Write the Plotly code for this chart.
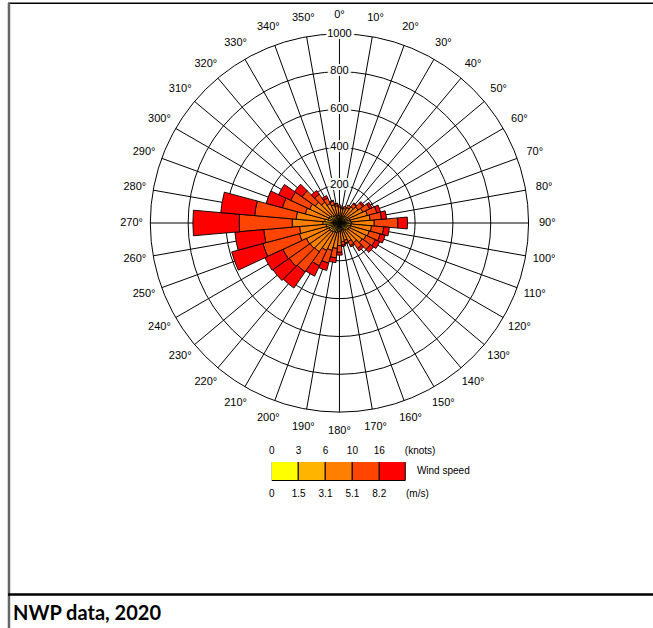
import plotly.graph_objects as go

# ---------------- data ----------------
directions = list(range(0, 360, 10))
dir_labels = [f"{d}°" for d in directions]

speed_bins_ms = ["0", "1.5", "3.1", "5.1", "8.2"]
speed_bins_kn = ["0", "3", "6", "10", "16"]
bin_names = ["0-1.5 m/s", "1.5-3.1 m/s", "3.1-5.1 m/s", "5.1-8.2 m/s", ">8.2 m/s"]
bin_colors = ["#FFFF00", "#FFB400", "#FF8000", "#FF4500", "#FF0000"]

bin1 = [15, 14, 14, 15, 16, 17, 18, 19, 20, 20, 20, 20, 19, 18, 17, 16, 15, 15,
        16, 17, 17, 18, 19, 19, 19, 21, 21, 25, 22, 20, 19, 18, 17, 16, 15, 15]
bin2 = [25, 22, 22, 25, 28, 31, 35, 38, 40, 45, 42, 40, 38, 36, 31, 27, 25, 25,
        29, 32, 35, 36, 40, 42, 42, 50, 49, 63, 56, 43, 41, 36, 31, 28, 27, 25]
bin3 = [45, 41, 44, 50, 61, 72, 83, 96, 103, 119, 108, 103, 98, 93, 80, 65, 55, 60,
        75, 86, 98, 106, 127, 129, 132, 148, 142, 162, 152, 124, 114, 102, 86, 70, 58, 51]
bin4 = [10, 8, 10, 15, 20, 30, 40, 52, 60, 125, 65, 60, 55, 52, 37, 24, 15, 18,
        35, 50, 70, 90, 130, 135, 137, 200, 190, 280, 220, 125, 110, 85, 52, 32, 20, 12]
bin5 = [0, 0, 0, 0, 5, 10, 14, 20, 27, 51, 30, 27, 25, 21, 15, 8, 5, 7,
        15, 25, 40, 60, 104, 105, 105, 171, 153, 245, 180, 88, 71, 49, 24, 14, 5, 2]
bins = [bin1, bin2, bin3, bin4, bin5]

radial_ticks = [200, 400, 600, 800, 1000]
radial_labels = [str(v) for v in radial_ticks]

title_text = "NWP data, 2020"

# ---------------- figure ----------------
W, H = 653, 628
fig = go.Figure()

for vals, name, col in zip(bins, bin_names, bin_colors):
    fig.add_trace(go.Barpolar(
        r=vals, theta=directions, name=name, width=10,
        marker=dict(color=col, line=dict(color="black", width=0.9)),
        showlegend=False, subplot="polar",
    ))

# radial tick labels centred on the north spoke, masking the lines
fig.add_trace(go.Scatterpolar(
    r=radial_ticks, theta=[0] * len(radial_ticks), mode="text",
    text=radial_labels, textposition="middle center",
    textfont=dict(family="Liberation Sans, Arial", size=11, color="black",
                  shadow="2px 0 0 #fff, -2px 0 0 #fff, 0 2px 0 #fff, 0 -2px 0 #fff, "
                         "3px 0 0 #fff, -3px 0 0 #fff, 2px 2px 0 #fff, -2px -2px 0 #fff, "
                         "2px -2px 0 #fff, -2px 2px 0 #fff"),
    showlegend=False, hoverinfo="skip", subplot="polar",
))

# direction labels: a second, larger, invisible polar frame whose rim carries the labels
fig.add_trace(go.Scatterpolar(
    r=[1000] * len(directions), theta=directions, mode="text",
    text=dir_labels, textposition="middle center", cliponaxis=False,
    textfont=dict(family="Liberation Sans, Arial", size=11, color="black"),
    showlegend=False, hoverinfo="skip", subplot="polar2",
))

# colour key (legend) as a small cartesian strip
fig.add_trace(go.Bar(
    x=[i + 0.5 for i in range(len(bin_colors))], y=[1] * len(bin_colors), width=1,
    marker=dict(color=bin_colors, line=dict(color="black", width=1)),
    xaxis="x", yaxis="y", showlegend=False, cliponaxis=False, hoverinfo="skip",
))
fig.add_trace(go.Scatter(
    x=[5.4], y=[0.5], mode="text", text=["Wind speed"], textposition="middle right",
    textfont=dict(family="Liberation Sans, Arial", size=10, color="black"),
    xaxis="x", yaxis="y", showlegend=False, hoverinfo="skip", cliponaxis=False,
))

cx, cy, R = 338, 223, 190
RL = 209  # pixel radius of the label ring

hidden_polar_axes = dict(
    angularaxis=dict(rotation=90, direction="clockwise", showticklabels=False, ticks="",
                     showline=False, showgrid=False),
    radialaxis=dict(range=[0, 1001], showticklabels=False, ticks="", showline=False,
                    showgrid=False),
)

fig.update_layout(
    width=W, height=H,
    margin=dict(l=0, r=0, t=0, b=0),
    paper_bgcolor="white", plot_bgcolor="white",
    font=dict(family="Liberation Sans, Arial", size=11, color="black"),
    polar=dict(
        domain=dict(x=[(cx - R) / W, (cx + R) / W], y=[1 - (cy + R) / H, 1 - (cy - R) / H]),
        bgcolor="white", bargap=0, barmode="stack",
        angularaxis=dict(
            rotation=90, direction="clockwise",
            tickmode="array", tickvals=directions, ticktext=dir_labels,
            showticklabels=False, ticks="",
            showline=True, linecolor="black", linewidth=1,
            showgrid=True, gridcolor="black", gridwidth=1,
            layer="below traces",
        ),
        radialaxis=dict(
            range=[0, 1000], tickmode="array", tickvals=radial_ticks,
            showticklabels=False, ticks="", showline=False,
            showgrid=True, gridcolor="black", gridwidth=1,
            layer="below traces",
        ),
    ),
    polar2=dict(
        domain=dict(x=[(cx - RL) / W, (cx + RL) / W], y=[1 - (cy + RL) / H, 1 - (cy - RL) / H]),
        bgcolor="rgba(0,0,0,0)",
        **hidden_polar_axes,
    ),
    xaxis=dict(
        domain=[270 / W, (270 + 7.6 * 27) / W], range=[0, 7.6],
        tickmode="array", tickvals=[0, 1, 2, 3, 4, 5.42],
        ticktext=speed_bins_ms + ["(m/s)"],
        ticks="outside", ticklen=3, tickcolor="rgba(0,0,0,0)",
        tickfont=dict(family="Liberation Sans, Arial", size=10, color="black"),
        showgrid=False, zeroline=False, showline=False, fixedrange=True,
    ),
    xaxis2=dict(
        overlaying="x", matches="x", side="top", anchor="y",
        tickmode="array", tickvals=[0, 1, 2, 3, 4, 5.52],
        ticktext=speed_bins_kn + ["(knots)"],
        ticks="outside", ticklen=3, tickcolor="rgba(0,0,0,0)",
        tickfont=dict(family="Liberation Sans, Arial", size=10, color="black"),
        showgrid=False, zeroline=False, showline=False,
    ),
    yaxis=dict(
        domain=[1 - 481 / H, 1 - 462 / H], range=[0, 1],
        showticklabels=False, showgrid=False, zeroline=False, showline=False, ticks="",
    ),
    bargap=0,
    annotations=[dict(
        text=f"<b>{title_text}</b>", x=8 / W, y=1 - 612 / H, xref="paper", yref="paper",
        xanchor="left", yanchor="middle", showarrow=False,
        font=dict(family="Lato, Open Sans", size=20, color="black"),
    )],
    shapes=[
        dict(type="line", xref="paper", yref="paper", x0=5 / W, x1=1, y0=1 - 3.2 / H, y1=1 - 3.2 / H,
             line=dict(color="black", width=1.5)),
        dict(type="line", xref="paper", yref="paper", x0=6 / W, x1=6 / W, y0=0, y1=1 - 3 / H,
             line=dict(color="#666666", width=2.5)),
        dict(type="line", xref="paper", yref="paper", x0=5 / W, x1=1, y0=1 - 594.5 / H, y1=1 - 594.5 / H,
             line=dict(color="black", width=2.5)),
    ],
)

# dummy trace so xaxis2 is drawn
fig.add_trace(go.Scatter(x=[0], y=[0], xaxis="x2", yaxis="y", mode="markers",
                         marker=dict(opacity=0), showlegend=False, hoverinfo="skip"))

fig.write_html(
    "out.html",
    config={"displayModeBar": False},
    post_script="document.body.style.margin='0px';document.body.style.overflow='hidden';",
)
